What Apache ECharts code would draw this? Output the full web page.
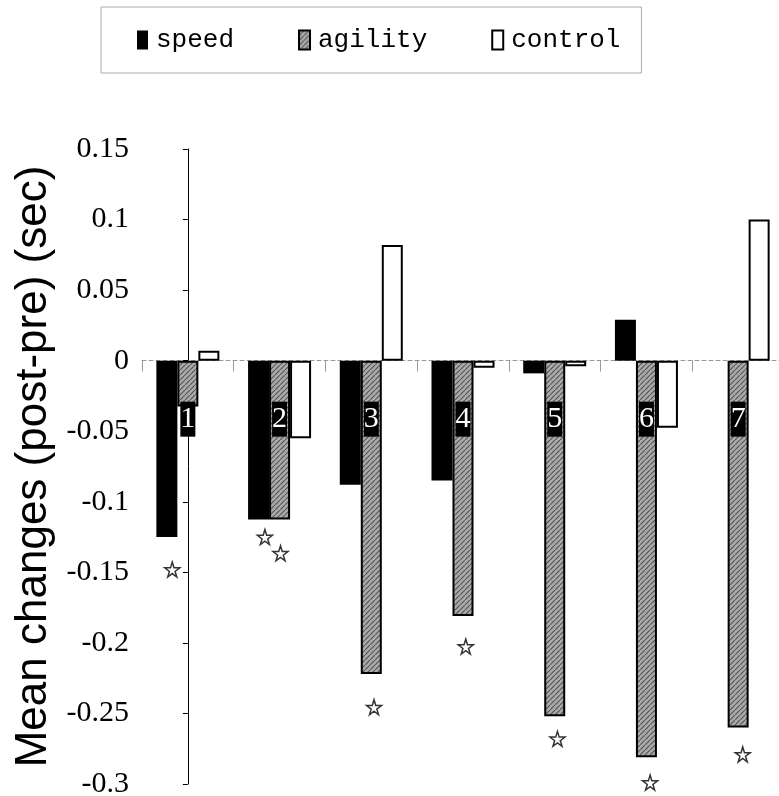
<!DOCTYPE html>
<html>
<head>
<meta charset="utf-8">
<script src="https://cdn.jsdelivr.net/npm/echarts@6/dist/echarts.min.js"></script>
<style>
  html, body { margin: 0; padding: 0; background: #fff; }
  #main { width: 779px; height: 796px; }
</style>
</head>
<body>
<div id="main"></div>
<script>
// 类别（组号）和三组数据
var categories = ['1', '2', '3', '4', '5', '6', '7'];
var speedData = [-0.125, -0.1125, -0.088, -0.085, -0.009, 0.029, 0];
var agilityData = [-0.0325, -0.1125, -0.222, -0.181, -0.252, -0.281, -0.26];
var controlData = [0.007, -0.055, 0.082, -0.005, -0.004, -0.0475, 0.1];
// 显著性星号: [组位置, 值]
var starData = [[-0.17, -0.148], [0.84, -0.125], [1.01, -0.1365], [2.03, -0.2456],
  [3.03, -0.2026], [4.03, -0.268], [5.04, -0.299], [6.05, -0.279]];
var yTicks = { min: -0.3, max: 0.15, interval: 0.05 };

// agility 的灰色斜纹填充
function makeHatch() {
  var c = document.createElement('canvas');
  c.width = 5;
  c.height = 5;
  var ctx = c.getContext('2d');
  ctx.fillStyle = '#aaaaaa';
  ctx.fillRect(0, 0, 5, 5);
  ctx.strokeStyle = '#555555';
  ctx.lineWidth = 1.2;
  ctx.beginPath();
  ctx.moveTo(0, 5);
  ctx.lineTo(5, 0);
  ctx.stroke();
  return c;
}
var hatch = { image: makeHatch(), repeat: 'repeat' };

var starPath = 'path://M50,0 L61,35 L98,35 L68,57 L79,91 L50,70 L21,91 L32,57 L2,35 L39,35 Z';

var chart = echarts.init(document.getElementById('main'), null, { renderer: 'canvas' });

var gridTop = 149, gridHeight = 635;
// 零线到网格底部的距离，用于把组号标签放在零线下方
var zeroFromBottom = gridHeight * (0 - yTicks.min) / (yTicks.max - yTicks.min);

var option = {
  backgroundColor: '#fff',
  animation: false,
  legend: {
    data: ['speed', 'agility', 'control'],
    left: 101,
    top: 7,
    padding: [20, 21, 20, 36],
    itemWidth: 11,
    itemHeight: 19,
    itemGap: 64,
    borderColor: '#aaa',
    borderWidth: 1,
    icon: 'rect',
    textStyle: {
      fontFamily: 'Liberation Mono',
      fontSize: 26,
      color: '#000',
      padding: [0, 0, 0, 3]
    }
  },
  grid: {
    left: 142,
    top: gridTop,
    width: 642,
    height: gridHeight,
    containLabel: false,
    outerBoundsMode: 'none'
  },
  xAxis: [
    {
      type: 'category',
      data: categories,
      axisLine: {
        onZero: true,
        lineStyle: { color: '#999', width: 1, type: [4, 3] }
      },
      axisTick: {
        show: true,
        length: 11,
        lineStyle: { color: '#999', width: 1 }
      },
      axisLabel: { show: false }
    },
    {
      // 星号定位用的隐藏轴
      type: 'value',
      min: -0.5,
      max: 6.5,
      show: false
    },
    {
      // 组号标签（黑底白字），压在柱子上面
      type: 'category',
      data: categories,
      position: 'bottom',
      offset: -zeroFromBottom,
      z: 10,
      axisLine: { show: false, onZero: false },
      axisTick: { show: false },
      axisLabel: {
        margin: 41,
        color: '#fff',
        backgroundColor: '#000',
        fontFamily: 'Liberation Serif',
        fontSize: 30,
        lineHeight: 35,
        padding: [0, 0]
      }
    }
  ],
  yAxis: {
    type: 'value',
    min: yTicks.min,
    max: yTicks.max,
    interval: yTicks.interval,
    name: 'Mean changes (post-pre) (sec)',
    nameLocation: 'middle',
    nameGap: 82,
    nameTextStyle: {
      fontFamily: 'Liberation Sans',
      fontSize: 44,
      color: '#000'
    },
    axisLine: { show: true, lineStyle: { color: '#000', width: 1 } },
    axisTick: { show: true, length: 5, lineStyle: { color: '#000' } },
    splitLine: { show: false },
    axisLabel: {
      margin: 13,
      color: '#000',
      fontFamily: 'Liberation Serif',
      fontSize: 30
    }
  },
  series: [
    {
      name: 'speed',
      type: 'bar',
      barWidth: 21,
      barGap: '0%',
      data: speedData,
      itemStyle: { color: '#000' }
    },
    {
      name: 'agility',
      type: 'bar',
      barWidth: 21,
      barGap: '0%',
      data: agilityData,
      itemStyle: { color: hatch, borderColor: '#000', borderWidth: 2 }
    },
    {
      name: 'control',
      type: 'bar',
      barWidth: 21,
      barGap: '0%',
      data: controlData,
      itemStyle: { color: '#fff', borderColor: '#000', borderWidth: 2 }
    },
    {
      name: 'stars',
      type: 'scatter',
      xAxisIndex: 1,
      symbol: starPath,
      symbolSize: 15,
      data: starData,
      itemStyle: { color: '#fff', borderColor: '#000', borderWidth: 1.5 }
    }
  ]
};

chart.setOption(option);
</script>
</body>
</html>
